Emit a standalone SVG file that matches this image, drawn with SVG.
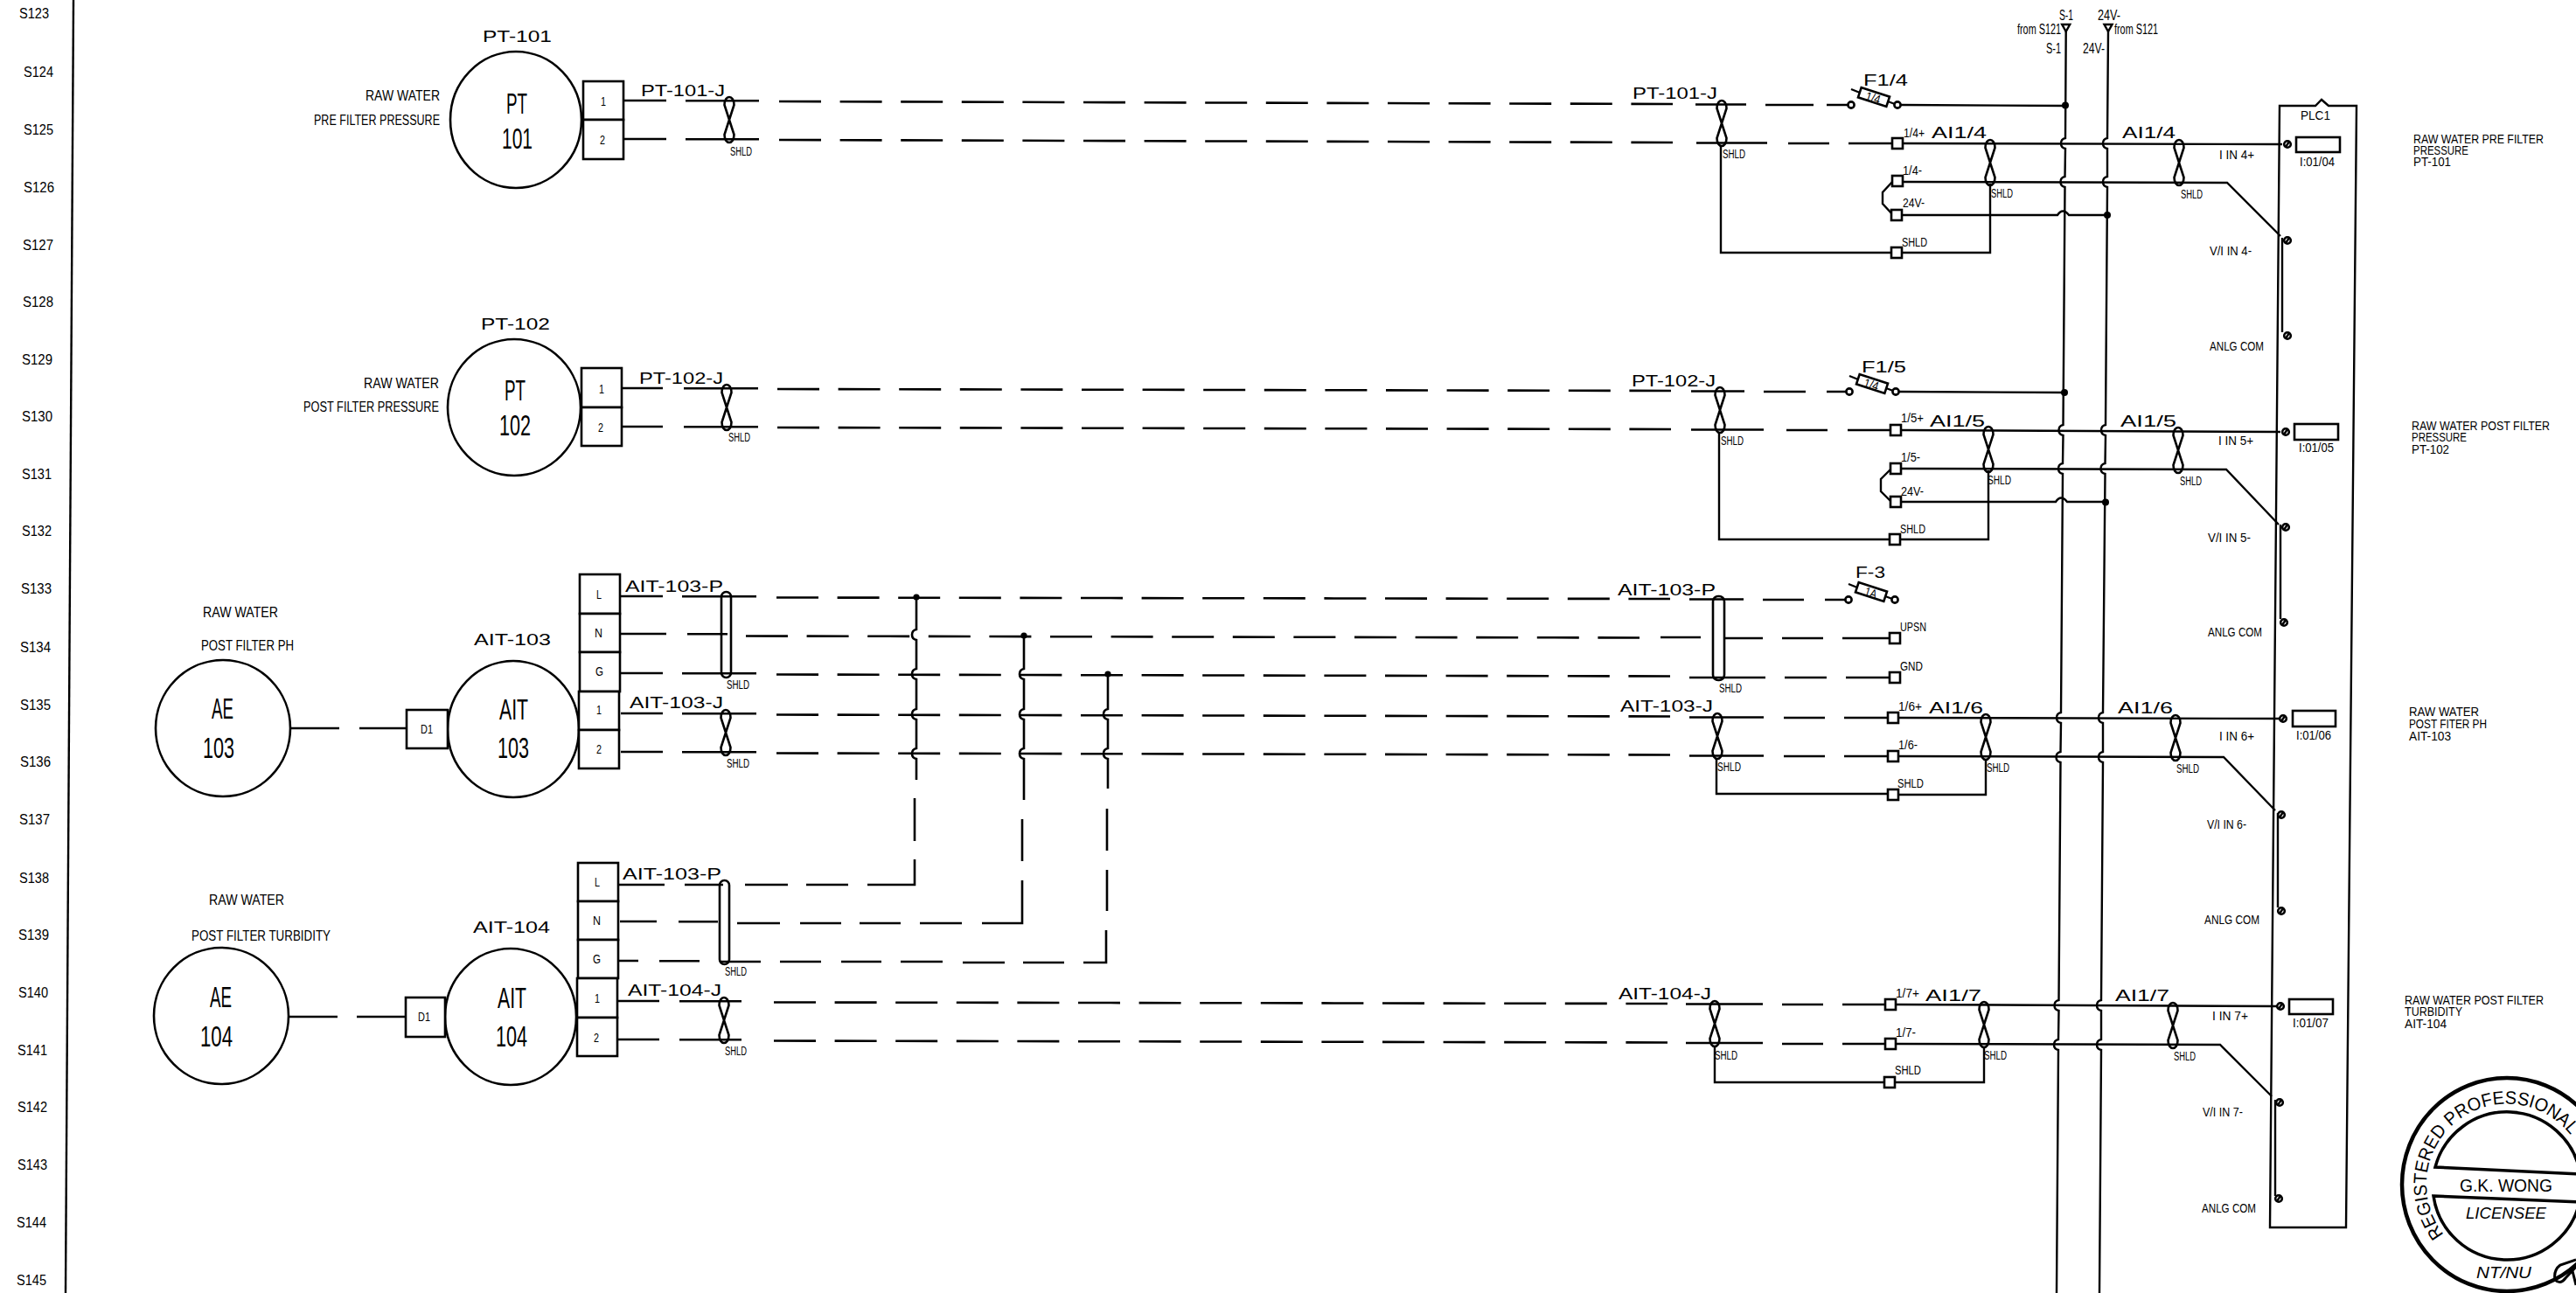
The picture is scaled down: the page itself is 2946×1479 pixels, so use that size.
<svg xmlns="http://www.w3.org/2000/svg" xmlns:xlink="http://www.w3.org/1999/xlink" width="2946" height="1479" viewBox="0 0 2946 1479">
<style>
text{font-family:"Liberation Sans",Arial,sans-serif;fill:#000}
.f14{font-size:14px}.f15{font-size:15px}.f16{font-size:16px}.f18{font-size:18px}.f19{font-size:19px}.f30{font-size:34px}
.w{fill:none;stroke:#000;stroke-width:2.4}
.t{fill:none;stroke:#000;stroke-width:2.6}
.d{fill:none;stroke:#000;stroke-width:2.6;stroke-dasharray:48 21.6}
.o{fill:#fff;stroke:#000;stroke-width:2.6}
.n{fill:none;stroke:#000;stroke-width:2.6}
</style>
<defs>
<path id="twist" class="t" d="M-5.5 -17C-5.5 -29 5.5 -29 5.5 -17L-5.5 17C-5.5 29 5.5 29 5.5 17Z"/>
<rect id="term" class="o" x="-6" y="-6" width="12" height="12"/>
<g id="fuse"><circle class="o" cx="-26" cy="9" r="3.6"/><circle class="o" cx="27" cy="9" r="3.6"/><rect class="o" x="-17" y="-6" width="34" height="12" transform="rotate(18)"/><path class="w" d="M-26 -9L-16 -5M16 5L24 8"/></g>
<g id="pin"><circle class="o" cx="0" cy="0" r="3.8"/><path class="w" d="M-2 3L2 -3"/></g>
<path id="tri" class="w" d="M-4.5 0H4.5L0 8Z"/>
</defs>
<rect width="2946" height="1479" fill="#fff"/>
<g id="sheet-rail">
<path class="w" d="M84 0L75 1479"/>
<text class="f16" x="22" y="21" textLength="34" lengthAdjust="spacingAndGlyphs">S123</text>
<text class="f16" x="27" y="88" textLength="34" lengthAdjust="spacingAndGlyphs">S124</text>
<text class="f16" x="27" y="154" textLength="34" lengthAdjust="spacingAndGlyphs">S125</text>
<text class="f16" x="27" y="220" textLength="35" lengthAdjust="spacingAndGlyphs">S126</text>
<text class="f16" x="26" y="286" textLength="35" lengthAdjust="spacingAndGlyphs">S127</text>
<text class="f16" x="26" y="351" textLength="35" lengthAdjust="spacingAndGlyphs">S128</text>
<text class="f16" x="25" y="417" textLength="35" lengthAdjust="spacingAndGlyphs">S129</text>
<text class="f16" x="25" y="482" textLength="35" lengthAdjust="spacingAndGlyphs">S130</text>
<text class="f16" x="25" y="548" textLength="34" lengthAdjust="spacingAndGlyphs">S131</text>
<text class="f16" x="25" y="613" textLength="34" lengthAdjust="spacingAndGlyphs">S132</text>
<text class="f16" x="24" y="679" textLength="35" lengthAdjust="spacingAndGlyphs">S133</text>
<text class="f16" x="23" y="746" textLength="35" lengthAdjust="spacingAndGlyphs">S134</text>
<text class="f16" x="23" y="812" textLength="35" lengthAdjust="spacingAndGlyphs">S135</text>
<text class="f16" x="23" y="877" textLength="35" lengthAdjust="spacingAndGlyphs">S136</text>
<text class="f16" x="22" y="943" textLength="35" lengthAdjust="spacingAndGlyphs">S137</text>
<text class="f16" x="22" y="1010" textLength="34" lengthAdjust="spacingAndGlyphs">S138</text>
<text class="f16" x="21" y="1075" textLength="35" lengthAdjust="spacingAndGlyphs">S139</text>
<text class="f16" x="21" y="1141" textLength="34" lengthAdjust="spacingAndGlyphs">S140</text>
<text class="f16" x="20" y="1207" textLength="34" lengthAdjust="spacingAndGlyphs">S141</text>
<text class="f16" x="20" y="1272" textLength="34" lengthAdjust="spacingAndGlyphs">S142</text>
<text class="f16" x="20" y="1338" textLength="34" lengthAdjust="spacingAndGlyphs">S143</text>
<text class="f16" x="19" y="1404" textLength="34" lengthAdjust="spacingAndGlyphs">S144</text>
<text class="f16" x="19" y="1470" textLength="34" lengthAdjust="spacingAndGlyphs">S145</text>
</g>
<g id="connectors">
<path class="t" d="M714 115H762M784 115.3H868M1939 119.5H1997M2019 120H2074M2089 120H2113M714 159H762M784 159.3H868M1940 163.5H2021M2045 164H2092M2114 164H2164"/>
<path class="d" d="M891 116L1913 119"/><path class="d" d="M891 160L1913 163"/>
<path class="w" d="M2174 120L2362 121M2176 164L2610 165M2176 208L2547 209L2608 270M2175 246H2353q6 -9 13 0H2410M1968 168V289H2163M2176 289H2276V210M2165 207L2153 220V233L2165 246M2610 272V380"/>
<path class="t" d="M711 444H758M782 444.3H867M1934 447.5H1995M2017 448H2065M2089 448H2113M711 488H758M782 488.3H867M1934 491.5H2017M2043 492H2090M2113 492H2163"/>
<path class="d" d="M889 445L1911 447"/><path class="d" d="M889 489L1911 491"/>
<path class="w" d="M2172 448L2361 449M2174 492L2608 494M2174 536L2546 537L2606 600M2174 574H2351q6 -9 13 0H2408M1966 496V617H2161M2174 617H2274V538M2163 536L2151 548V562L2163 574M2608 600V708"/>
<path class="t" d="M710 682H758M780 682.3H865M1932 685.5H1994M2016 686H2063M2087 686H2114M710 725H762M786 725.3H832M1899 729H1945M1972 730H2016M2038 730H2085M2107 730H2161M710 770H758M780 770.3H865M1932 775H2019M2041 775H2089M2111 775H2161M710 816H758M780 816.3H865M1932 820.5H2017M2040 821H2087M2109 821H2159M710 860H758M780 860.3H865M1932 864.5H2017M2040 865H2087M2109 865H2159"/>
<path class="d" d="M888 683.5L1910 685"/><path class="d" d="M853 727.5L1875 729.5"/><path class="d" d="M888 771.5L1910 773.5"/><path class="d" d="M888 817.5L1910 819.5"/><path class="d" d="M888 861.5L1910 863.5"/>
<path class="w" d="M2171 821L2611 822M2171 865L2543 866L2602 927M2605 930V1038M1963 868V908H2159M2171 909H2271V868"/>
<path class="t" d="M708 1012H760M783 1012H827M852 1012H901M922 1012H970M709 1054H751M776 1054.3H821M843 1056H892M915 1056H962M983 1056H1030M1052 1056H1100M708 1099H730M754 1099.3H800M824 1100H870M892 1100H939M962 1100H1008M1030 1100H1078M1101 1101H1149M1170 1101H1217M706 1145H754M777 1145.3H848M1928 1148.5H2016M2038 1149H2085M2107 1149H2156M706 1189H754M777 1189.3H848M1928 1193H2016M2038 1194H2085M2107 1194H2156"/>
<path class="d" d="M885 1146.5L1907 1148"/><path class="d" d="M885 1190.5L1907 1192.5"/>
<path class="w" d="M2168 1149L2608 1151M2168 1194L2539 1195L2598 1254M2602 1258V1368M1961 1196V1238H2155M2167 1238H2269V1197"/>
<path class="w" d="M332 833H388M411 833H465M330 1163H386M408 1163H464"/>
<path class="t" d="M1048 683V720q-5 1 -5 6q0 5 5 6V765q-5 1 -5 6q0 5 5 6V811q-5 1 -5 6q0 5 5 6V856q-5 1 -5 6q0 5 5 6V892M1046 913V962M1046 983V1012H992"/>
<path class="t" d="M1171 727V765q-5 1 -5 6q0 5 5 6V811q-5 1 -5 6q0 5 5 6V856q-5 1 -5 6q0 5 5 6V915M1169 937V985M1169 1007V1056H1123"/>
<path class="t" d="M1267 771V811q-5 1 -5 6q0 5 5 6V856q-5 1 -5 6q0 5 5 6V902M1266 925V973M1266 995V1042M1265 1064V1101H1239"/>
<circle cx="1048" cy="683" r="3.6"/><circle cx="1171" cy="727" r="3.6"/><circle cx="1267" cy="771" r="3.6"/>
<path class="w" d="M2362.7 36L2362 158q-5 1 -5 6q0 5 5 6L2361.5 202q-5 1 -5 6q0 5 5 6L2359.5 486q-5 1 -5 6q0 5 5 6L2359 530q-5 1 -5 6q0 5 5 6L2357 815q-5 1 -5 6q0 5 5 6L2356.5 860q-5 1 -5 6q0 5 5 6L2354.5 1144q-5 1 -5 6q0 5 5 6L2354 1189q-5 1 -5 6q0 5 5 6L2352 1479"/>
<path class="w" d="M2411 36L2410 158q-5 1 -5 6q0 5 5 6L2410 202q-5 1 -5 6q0 5 5 6L2408 486q-5 1 -5 6q0 5 5 6L2407.5 530q-5 1 -5 6q0 5 5 6L2405 815q-5 1 -5 6q0 5 5 6L2405 860q-5 1 -5 6q0 5 5 6L2403 1144q-5 1 -5 6q0 5 5 6L2403 1189q-5 1 -5 6q0 5 5 6L2401 1479"/>
<use href="#tri" x="2362.7" y="28"/><use href="#tri" x="2411" y="28"/>
<circle cx="2362" cy="120.500" r="4"/><circle cx="2361" cy="449" r="4"/><circle cx="2410" cy="246" r="4"/><circle cx="2408" cy="574.500" r="4"/>
</g>
<g id="bus-labels">
<text class="f16" x="2355" y="23" textLength="16" lengthAdjust="spacingAndGlyphs">S-1</text>
<text class="f16" x="2399" y="23" textLength="26" lengthAdjust="spacingAndGlyphs">24V-</text>
<text class="f16" x="2307" y="39" textLength="50" lengthAdjust="spacingAndGlyphs">from S121</text>
<text class="f16" x="2418" y="39" textLength="50" lengthAdjust="spacingAndGlyphs">from S121</text>
<text class="f16" x="2340" y="61" textLength="17" lengthAdjust="spacingAndGlyphs">S-1</text>
<text class="f16" x="2382" y="61" textLength="25" lengthAdjust="spacingAndGlyphs">24V-</text>
</g>
<g id="PT-101">
<ellipse class="n" cx="590" cy="137" rx="75" ry="78"/>
<rect class="o" x="667" y="93" width="46" height="44"/><rect class="o" x="667" y="137" width="46" height="45"/>
<text class="f19" x="552" y="48" textLength="79" lengthAdjust="spacingAndGlyphs">PT-101</text>
<text class="f30" x="579" y="130" textLength="24" lengthAdjust="spacingAndGlyphs">PT</text>
<text class="f30" x="574" y="170" textLength="35" lengthAdjust="spacingAndGlyphs">101</text>
<text class="f14" x="687" y="121" textLength="6" lengthAdjust="spacingAndGlyphs">1</text>
<text class="f14" x="686" y="165" textLength="6" lengthAdjust="spacingAndGlyphs">2</text>
<text class="f16" x="418" y="115" textLength="85" lengthAdjust="spacingAndGlyphs">RAW WATER</text>
<text class="f16" x="359" y="143" textLength="144" lengthAdjust="spacingAndGlyphs">PRE FILTER PRESSURE</text>
</g>
<g id="PT-102">
<ellipse class="n" cx="588" cy="466" rx="76" ry="78"/>
<rect class="o" x="665" y="421" width="46" height="45"/><rect class="o" x="665" y="466" width="46" height="44"/>
<text class="f19" x="550" y="377" textLength="79" lengthAdjust="spacingAndGlyphs">PT-102</text>
<text class="f30" x="577" y="458" textLength="24" lengthAdjust="spacingAndGlyphs">PT</text>
<text class="f30" x="571" y="498" textLength="36" lengthAdjust="spacingAndGlyphs">102</text>
<text class="f14" x="685" y="450" textLength="6" lengthAdjust="spacingAndGlyphs">1</text>
<text class="f14" x="684" y="494" textLength="6" lengthAdjust="spacingAndGlyphs">2</text>
<text class="f16" x="416" y="444" textLength="86" lengthAdjust="spacingAndGlyphs">RAW WATER</text>
<text class="f16" x="347" y="471" textLength="155" lengthAdjust="spacingAndGlyphs">POST FILTER PRESSURE</text>
</g>
<g id="AE-103">
<ellipse class="n" cx="255" cy="833" rx="77" ry="78"/>
<text class="f30" x="242" y="822" textLength="25" lengthAdjust="spacingAndGlyphs">AE</text>
<text class="f30" x="232" y="867" textLength="36" lengthAdjust="spacingAndGlyphs">103</text>
<text class="f16" x="232" y="706" textLength="86" lengthAdjust="spacingAndGlyphs">RAW WATER</text>
<text class="f16" x="230" y="744" textLength="106" lengthAdjust="spacingAndGlyphs">POST FILTER PH</text>
</g>
<g id="AIT-103">
<ellipse class="n" cx="587" cy="834" rx="75" ry="78"/>
<rect class="o" x="465" y="812" width="47" height="44"/>
<text class="f15" x="481" y="839" textLength="14" lengthAdjust="spacingAndGlyphs">D1</text>
<rect class="o" x="663" y="657" width="46" height="45"/><rect class="o" x="663" y="702" width="46" height="44"/><rect class="o" x="663" y="746" width="46" height="45"/><rect class="o" x="662" y="791" width="46" height="44"/><rect class="o" x="662" y="835" width="46" height="44"/>
<text class="f19" x="542" y="738" textLength="88" lengthAdjust="spacingAndGlyphs">AIT-103</text>
<text class="f30" x="571" y="823" textLength="33" lengthAdjust="spacingAndGlyphs">AIT</text>
<text class="f30" x="569" y="867" textLength="36" lengthAdjust="spacingAndGlyphs">103</text>
<text class="f15" x="682" y="685" textLength="6" lengthAdjust="spacingAndGlyphs">L</text>
<text class="f15" x="680" y="729" textLength="9" lengthAdjust="spacingAndGlyphs">N</text>
<text class="f15" x="681" y="773" textLength="9" lengthAdjust="spacingAndGlyphs">G</text>
<text class="f14" x="682" y="817" textLength="6" lengthAdjust="spacingAndGlyphs">1</text>
<text class="f14" x="682" y="862" textLength="6" lengthAdjust="spacingAndGlyphs">2</text>
</g>
<g id="AE-104">
<ellipse class="n" cx="253" cy="1162" rx="77" ry="78"/>
<text class="f30" x="240" y="1152" textLength="25" lengthAdjust="spacingAndGlyphs">AE</text>
<text class="f30" x="229" y="1197" textLength="37" lengthAdjust="spacingAndGlyphs">104</text>
<text class="f16" x="239" y="1035" textLength="86" lengthAdjust="spacingAndGlyphs">RAW WATER</text>
<text class="f16" x="219" y="1076" textLength="159" lengthAdjust="spacingAndGlyphs">POST FILTER TURBIDITY</text>
</g>
<g id="AIT-104">
<ellipse class="n" cx="584" cy="1163" rx="75" ry="78"/>
<rect class="o" x="464" y="1141" width="45" height="45"/>
<text class="f15" x="478" y="1168" textLength="14" lengthAdjust="spacingAndGlyphs">D1</text>
<rect class="o" x="661" y="987" width="46" height="44"/><rect class="o" x="661" y="1031" width="46" height="44"/><rect class="o" x="661" y="1075" width="46" height="44"/><rect class="o" x="660" y="1119" width="46" height="45"/><rect class="o" x="660" y="1164" width="46" height="44"/>
<text class="f19" x="541" y="1067" textLength="88" lengthAdjust="spacingAndGlyphs">AIT-104</text>
<text class="f30" x="569" y="1153" textLength="33" lengthAdjust="spacingAndGlyphs">AIT</text>
<text class="f30" x="567" y="1197" textLength="36" lengthAdjust="spacingAndGlyphs">104</text>
<text class="f15" x="680" y="1014" textLength="6" lengthAdjust="spacingAndGlyphs">L</text>
<text class="f15" x="678" y="1058" textLength="9" lengthAdjust="spacingAndGlyphs">N</text>
<text class="f15" x="678" y="1102" textLength="9" lengthAdjust="spacingAndGlyphs">G</text>
<text class="f14" x="680" y="1147" textLength="6" lengthAdjust="spacingAndGlyphs">1</text>
<text class="f14" x="679" y="1192" textLength="6" lengthAdjust="spacingAndGlyphs">2</text>
</g>
<g id="cable-shields-left">
<use href="#twist" x="834" y="137"/><use href="#twist" x="831" y="466"/>
<rect class="t" x="825" y="677" width="11" height="98" rx="5.500"/><use href="#twist" x="830" y="838"/>
<rect class="t" x="823" y="1007" width="11" height="96" rx="5.500"/><use href="#twist" x="828" y="1167"/>
<text class="f18" x="733" y="110" textLength="96" lengthAdjust="spacingAndGlyphs">PT-101-J</text>
<text class="f14" x="835" y="178" textLength="25" lengthAdjust="spacingAndGlyphs">SHLD</text>
<text class="f18" x="731" y="439" textLength="96" lengthAdjust="spacingAndGlyphs">PT-102-J</text>
<text class="f14" x="833" y="505" textLength="25" lengthAdjust="spacingAndGlyphs">SHLD</text>
<text class="f18" x="715" y="677" textLength="112" lengthAdjust="spacingAndGlyphs">AIT-103-P</text>
<text class="f14" x="831" y="788" textLength="26" lengthAdjust="spacingAndGlyphs">SHLD</text>
<text class="f18" x="720" y="810" textLength="107" lengthAdjust="spacingAndGlyphs">AIT-103-J</text>
<text class="f14" x="831" y="878" textLength="26" lengthAdjust="spacingAndGlyphs">SHLD</text>
<text class="f18" x="712" y="1006" textLength="113" lengthAdjust="spacingAndGlyphs">AIT-103-P</text>
<text class="f14" x="829" y="1116" textLength="25" lengthAdjust="spacingAndGlyphs">SHLD</text>
<text class="f18" x="718" y="1139" textLength="107" lengthAdjust="spacingAndGlyphs">AIT-104-J</text>
<text class="f14" x="829" y="1207" textLength="25" lengthAdjust="spacingAndGlyphs">SHLD</text>
</g>
<g id="loop-AI1-4">
<use href="#twist" x="1969" y="141"/><use href="#fuse" x="2143" y="111"/>
<text class="f14" x="2134" y="117" textLength="17" lengthAdjust="spacingAndGlyphs" transform="rotate(18 2143 111)">1/4</text>
<use href="#term" x="2170" y="164"/><use href="#term" x="2170" y="207"/><use href="#term" x="2169" y="246"/><use href="#term" x="2169" y="289"/>
<use href="#twist" x="2276" y="186"/><use href="#twist" x="2492" y="186"/>
<use href="#pin" x="2616" y="165"/><use href="#pin" x="2616" y="275"/><use href="#pin" x="2616" y="384"/>
<rect class="o" x="2626" y="157" width="50" height="17"/>
<text class="f18" x="1867" y="113" textLength="97" lengthAdjust="spacingAndGlyphs">PT-101-J</text>
<text class="f14" x="1970" y="181" textLength="26" lengthAdjust="spacingAndGlyphs">SHLD</text>
<text class="f18" x="2131" y="98" textLength="51" lengthAdjust="spacingAndGlyphs">F1/4</text>
<text class="f15" x="2177" y="157" textLength="24" lengthAdjust="spacingAndGlyphs">1/4+</text>
<text class="f18" x="2209" y="158" textLength="63" lengthAdjust="spacingAndGlyphs">AI1/4</text>
<text class="f15" x="2176" y="200" textLength="22" lengthAdjust="spacingAndGlyphs">1/4-</text>
<text class="f15" x="2176" y="237" textLength="25" lengthAdjust="spacingAndGlyphs">24V-</text>
<text class="f14" x="2175" y="282" textLength="29" lengthAdjust="spacingAndGlyphs">SHLD</text>
<text class="f14" x="2277" y="226" textLength="25" lengthAdjust="spacingAndGlyphs">SHLD</text>
<text class="f18" x="2427" y="158" textLength="61" lengthAdjust="spacingAndGlyphs">AI1/4</text>
<text class="f14" x="2494" y="227" textLength="25" lengthAdjust="spacingAndGlyphs">SHLD</text>
<text class="f15" x="2538" y="182" textLength="40" lengthAdjust="spacingAndGlyphs">I IN 4+</text>
<text class="f15" x="2527" y="292" textLength="48" lengthAdjust="spacingAndGlyphs">V/I IN 4-</text>
<text class="f15" x="2527" y="401" textLength="62" lengthAdjust="spacingAndGlyphs">ANLG COM</text>
<text class="f14" x="2630" y="190" textLength="40" lengthAdjust="spacingAndGlyphs">I:01/04</text>
<text class="f15" x="2760" y="164" textLength="149" lengthAdjust="spacingAndGlyphs">RAW WATER PRE FILTER</text>
<text class="f15" x="2760" y="177" textLength="63" lengthAdjust="spacingAndGlyphs">PRESSURE</text>
<text class="f15" x="2760" y="190" textLength="43" lengthAdjust="spacingAndGlyphs">PT-101</text>
</g>
<g id="loop-AI1-5">
<use href="#twist" x="1967" y="469"/><use href="#fuse" x="2141" y="439"/>
<text class="f14" x="2132" y="445" textLength="17" lengthAdjust="spacingAndGlyphs" transform="rotate(18 2141 439)">1/4</text>
<use href="#term" x="2168" y="492"/><use href="#term" x="2168" y="536"/><use href="#term" x="2168" y="574"/><use href="#term" x="2167" y="617"/>
<use href="#twist" x="2274" y="514"/><use href="#twist" x="2491" y="515"/>
<use href="#pin" x="2614" y="494"/><use href="#pin" x="2614" y="603"/><use href="#pin" x="2612" y="712"/>
<rect class="o" x="2624" y="485" width="50" height="18"/>
<text class="f18" x="1866" y="442" textLength="96" lengthAdjust="spacingAndGlyphs">PT-102-J</text>
<text class="f14" x="1968" y="509" textLength="26" lengthAdjust="spacingAndGlyphs">SHLD</text>
<text class="f18" x="2129" y="426" textLength="51" lengthAdjust="spacingAndGlyphs">F1/5</text>
<text class="f15" x="2174" y="483" textLength="26" lengthAdjust="spacingAndGlyphs">1/5+</text>
<text class="f18" x="2207" y="488" textLength="63" lengthAdjust="spacingAndGlyphs">AI1/5</text>
<text class="f15" x="2174" y="528" textLength="22" lengthAdjust="spacingAndGlyphs">1/5-</text>
<text class="f15" x="2174" y="567" textLength="26" lengthAdjust="spacingAndGlyphs">24V-</text>
<text class="f14" x="2173" y="610" textLength="29" lengthAdjust="spacingAndGlyphs">SHLD</text>
<text class="f14" x="2273" y="554" textLength="27" lengthAdjust="spacingAndGlyphs">SHLD</text>
<text class="f18" x="2425" y="488" textLength="64" lengthAdjust="spacingAndGlyphs">AI1/5</text>
<text class="f14" x="2493" y="555" textLength="25" lengthAdjust="spacingAndGlyphs">SHLD</text>
<text class="f15" x="2537" y="509" textLength="40" lengthAdjust="spacingAndGlyphs">I IN 5+</text>
<text class="f15" x="2525" y="620" textLength="49" lengthAdjust="spacingAndGlyphs">V/I IN 5-</text>
<text class="f15" x="2525" y="728" textLength="62" lengthAdjust="spacingAndGlyphs">ANLG COM</text>
<text class="f14" x="2629" y="517" textLength="40" lengthAdjust="spacingAndGlyphs">I:01/05</text>
<text class="f15" x="2758" y="492" textLength="158" lengthAdjust="spacingAndGlyphs">RAW WATER POST FILTER</text>
<text class="f15" x="2758" y="505" textLength="63" lengthAdjust="spacingAndGlyphs">PRESSURE</text>
<text class="f15" x="2758" y="519" textLength="43" lengthAdjust="spacingAndGlyphs">PT-102</text>
</g>
<g id="loop-AI1-6">
<rect class="t" x="1959" y="682" width="13" height="96" rx="6"/>
<use href="#fuse" x="2140" y="677"/>
<text class="f14" x="2133" y="683" textLength="14" lengthAdjust="spacingAndGlyphs" transform="rotate(18 2140 677)">1A</text>
<use href="#term" x="2167" y="730"/><use href="#term" x="2167" y="775"/><use href="#term" x="2165" y="821"/><use href="#term" x="2165" y="865"/><use href="#term" x="2165" y="909"/>
<use href="#twist" x="1964" y="842"/><use href="#twist" x="2271" y="843"/><use href="#twist" x="2488" y="844"/>
<use href="#pin" x="2611" y="822"/><use href="#pin" x="2609" y="932"/><use href="#pin" x="2609" y="1042"/>
<rect class="o" x="2622" y="813" width="49" height="18"/>
<text class="f18" x="1850" y="681" textLength="112" lengthAdjust="spacingAndGlyphs">AIT-103-P</text>
<text class="f14" x="1966" y="792" textLength="26" lengthAdjust="spacingAndGlyphs">SHLD</text>
<text class="f18" x="2122" y="661" textLength="34" lengthAdjust="spacingAndGlyphs">F-3</text>
<text class="f14" x="2173" y="722" textLength="30" lengthAdjust="spacingAndGlyphs">UPSN</text>
<text class="f14" x="2173" y="767" textLength="26" lengthAdjust="spacingAndGlyphs">GND</text>
<text class="f18" x="1853" y="814" textLength="106" lengthAdjust="spacingAndGlyphs">AIT-103-J</text>
<text class="f14" x="1964" y="882" textLength="27" lengthAdjust="spacingAndGlyphs">SHLD</text>
<text class="f15" x="2171" y="813" textLength="27" lengthAdjust="spacingAndGlyphs">1/6+</text>
<text class="f18" x="2206" y="816" textLength="62" lengthAdjust="spacingAndGlyphs">AI1/6</text>
<text class="f15" x="2171" y="857" textLength="22" lengthAdjust="spacingAndGlyphs">1/6-</text>
<text class="f14" x="2170" y="901" textLength="30" lengthAdjust="spacingAndGlyphs">SHLD</text>
<text class="f14" x="2272" y="883" textLength="26" lengthAdjust="spacingAndGlyphs">SHLD</text>
<text class="f18" x="2422" y="816" textLength="63" lengthAdjust="spacingAndGlyphs">AI1/6</text>
<text class="f14" x="2489" y="884" textLength="26" lengthAdjust="spacingAndGlyphs">SHLD</text>
<text class="f15" x="2538" y="847" textLength="40" lengthAdjust="spacingAndGlyphs">I IN 6+</text>
<text class="f15" x="2524" y="948" textLength="45" lengthAdjust="spacingAndGlyphs">V/I IN 6-</text>
<text class="f15" x="2521" y="1057" textLength="63" lengthAdjust="spacingAndGlyphs">ANLG COM</text>
<text class="f14" x="2626" y="846" textLength="40" lengthAdjust="spacingAndGlyphs">I:01/06</text>
<text class="f15" x="2755" y="819" textLength="80" lengthAdjust="spacingAndGlyphs">RAW WATER</text>
<text class="f15" x="2755" y="833" textLength="89" lengthAdjust="spacingAndGlyphs">POST FITER PH</text>
<text class="f15" x="2755" y="847" textLength="48" lengthAdjust="spacingAndGlyphs">AIT-103</text>
</g>
<g id="loop-AI1-7">
<use href="#term" x="2162" y="1149"/><use href="#term" x="2162" y="1194"/><use href="#term" x="2161" y="1238"/>
<use href="#twist" x="1961" y="1171"/><use href="#twist" x="2269" y="1172"/><use href="#twist" x="2485" y="1173"/>
<use href="#pin" x="2608" y="1151"/><use href="#pin" x="2607" y="1261"/><use href="#pin" x="2606" y="1371"/>
<rect class="o" x="2618" y="1143" width="50" height="17"/>
<text class="f18" x="1851" y="1143" textLength="106" lengthAdjust="spacingAndGlyphs">AIT-104-J</text>
<text class="f14" x="1961" y="1212" textLength="26" lengthAdjust="spacingAndGlyphs">SHLD</text>
<text class="f15" x="2168" y="1141" textLength="27" lengthAdjust="spacingAndGlyphs">1/7+</text>
<text class="f18" x="2202" y="1145" textLength="64" lengthAdjust="spacingAndGlyphs">AI1/7</text>
<text class="f15" x="2168" y="1186" textLength="23" lengthAdjust="spacingAndGlyphs">1/7-</text>
<text class="f14" x="2167" y="1229" textLength="30" lengthAdjust="spacingAndGlyphs">SHLD</text>
<text class="f14" x="2269" y="1212" textLength="26" lengthAdjust="spacingAndGlyphs">SHLD</text>
<text class="f18" x="2419" y="1145" textLength="62" lengthAdjust="spacingAndGlyphs">AI1/7</text>
<text class="f14" x="2486" y="1213" textLength="25" lengthAdjust="spacingAndGlyphs">SHLD</text>
<text class="f15" x="2530" y="1167" textLength="41" lengthAdjust="spacingAndGlyphs">I IN 7+</text>
<text class="f15" x="2519" y="1277" textLength="46" lengthAdjust="spacingAndGlyphs">V/I IN 7-</text>
<text class="f15" x="2518" y="1387" textLength="62" lengthAdjust="spacingAndGlyphs">ANLG COM</text>
<text class="f14" x="2622" y="1175" textLength="41" lengthAdjust="spacingAndGlyphs">I:01/07</text>
<text class="f15" x="2750" y="1149" textLength="159" lengthAdjust="spacingAndGlyphs">RAW WATER POST FILTER</text>
<text class="f15" x="2750" y="1162" textLength="66" lengthAdjust="spacingAndGlyphs">TURBIDITY</text>
<text class="f15" x="2750" y="1176" textLength="48" lengthAdjust="spacingAndGlyphs">AIT-104</text>
</g>
<g id="PLC1">
<path class="w" d="M2596 1404L2607 121H2648L2655 114L2663 121H2695L2683 1404Z"/>
<text class="f15" x="2631" y="137" textLength="34" lengthAdjust="spacingAndGlyphs">PLC1</text>
</g>
<g id="stamp">
<path fill="none" stroke="#000" stroke-width="4.500" d="M2747 1355A120 122 0 1 1 2987 1355A120 122 0 1 1 2747 1355Z"/>
<path fill="none" stroke="#000" stroke-width="3.500" d="M2785 1335A85 85 0 0 1 2951 1343Z"/>
<path fill="none" stroke="#000" stroke-width="3.500" d="M2783 1368L2950 1375A85 85 0 0 1 2783 1368Z"/>
<path id="stamp-arc" fill="none" d="M2795 1412A92 92 0 1 1 2944 1405"/>
<text font-size="21"><textPath href="#stamp-arc" textLength="290" lengthAdjust="spacingAndGlyphs">REGISTERED PROFESSIONAL</textPath></text>
<text font-size="20" x="2813" y="1363" textLength="106" lengthAdjust="spacingAndGlyphs">G.K. WONG</text>
<text font-size="18" font-style="italic" x="2820" y="1394" textLength="92" lengthAdjust="spacingAndGlyphs">LICENSEE</text>
<text font-size="18" font-style="italic" x="2832" y="1462" textLength="63" lengthAdjust="spacingAndGlyphs">NT/NU</text>
<path fill="none" stroke="#000" stroke-width="3" d="M2946 1441L2928 1447Q2920 1453 2922 1464Q2928 1470 2934 1462L2946 1449M2942 1454L2946 1470"/>
</g>
</svg>
